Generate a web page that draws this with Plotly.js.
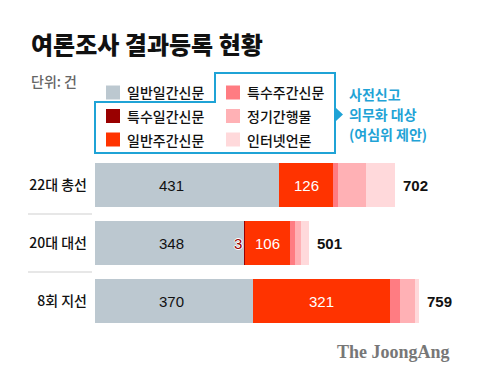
<!DOCTYPE html>
<html>
<head>
<meta charset="utf-8">
<script src="https://cdn.plot.ly/plotly-3.0.1.min.js"></script>
<style>html,body{margin:0;padding:0;background:#fff;}#chart{width:480px;height:379px;}</style>
</head>
<body>
<div id="chart"></div>
<script>
// ---- data ----
const categories = ['22대 총선', '20대 대선', '8회 지선'];
const seriesNames = ['일반일간신문', '특수일간신문', '일반주간신문', '특수주간신문', '정기간행물', '인터넷언론'];
const generalDaily  = [431, 348, 370];
const specialDaily  = [0, 3, 0];
const generalWeekly = [126, 106, 321];
const specialWeekly = [11, 12, 22];
const periodicals   = [67, 14, 35];
const internet      = [67, 18, 11];
const totals        = [702, 501, 759];
const noteLines     = ['사전신고', '의무화 대상', '(여심위 제안)'];

const seriesValues = [generalDaily, specialDaily, generalWeekly, specialWeekly, periodicals, internet];
const colors = ['#bcc8d0', '#990000', '#ff3300', '#ff7c82', '#ffb1b5', '#ffd9db'];

const FONT = '"Noto Sans CJK KR", "Noto Sans", sans-serif';
const NUMFONT = '"Liberation Sans", Arial, sans-serif';

// plot area in pixels
const L = 95, T = 156, W = 385, H = 174;
const X = p => (p - L) / W;
const Y = p => (T + H - p) / H;

const traces = seriesNames.map((name, i) => ({
  type: 'bar',
  orientation: 'h',
  name: name,
  y: categories,
  x: seriesValues[i],
  marker: {color: colors[i], line: {width: 0}},
  hoverinfo: 'x+name',
  showlegend: false
}));

const annotations = [];
// title & unit
annotations.push({xref: 'paper', yref: 'paper', x: X(29), y: Y(43), xanchor: 'left', yanchor: 'middle',
  text: '여론조사 결과등록 현황', showarrow: false, font: {family: FONT, size: 24, weight: 900, color: '#111'}});
annotations.push({xref: 'paper', yref: 'paper', x: X(29), y: Y(81), xanchor: 'left', yanchor: 'middle',
  text: '단위: 건', showarrow: false, font: {family: FONT, size: 14, weight: 500, color: '#666'}});
// note
noteLines.forEach((t, i) => {
  annotations.push({xref: 'paper', yref: 'paper', x: X(347), y: Y(94 + i * 20), xanchor: 'left', yanchor: 'middle',
    text: t, showarrow: false, font: {family: FONT, size: 14, weight: 700, color: '#1fa3d6'}});
});
// watermark
annotations.push({xref: 'paper', yref: 'paper', x: X(452), y: Y(352), xanchor: 'right', yanchor: 'middle',
  text: '<b>The JoongAng</b>', showarrow: false, font: {family: '"Liberation Serif", "DejaVu Serif", serif', size: 18, color: '#777'}});

// legend (custom)
const shapes = [];
seriesNames.forEach((name, i) => {
  const col = Math.floor(i / 3), row = i % 3;
  const sx = 106 + col * 120, cy = [92.5, 116, 139.5][row];
  shapes.push({type: 'rect', xref: 'paper', yref: 'paper', x0: X(sx), x1: X(sx + 14), y0: Y(cy - 7), y1: Y(cy + 7),
    fillcolor: colors[i], line: {width: 0}});
  annotations.push({xref: 'paper', yref: 'paper', x: X(sx + 19), y: Y(cy), xanchor: 'left', yanchor: 'middle',
    text: name, showarrow: false, font: {family: FONT, size: 14, weight: 500, color: '#111'}});
});
const pathPts = [[215, 73], [335, 73], [335, 153], [95, 153], [95, 102], [215, 102]];
shapes.push({type: 'path', xref: 'paper', yref: 'paper',
  path: 'M ' + pathPts.map(p => X(p[0]) + ',' + Y(p[1])).join(' L ') + ' Z',
  line: {color: '#1fa3d6', width: 2}, fillcolor: 'rgba(0,0,0,0)'});
shapes.push({type: 'path', xref: 'paper', yref: 'paper',
  path: 'M ' + X(336) + ',' + Y(108) + ' L ' + X(343) + ',' + Y(114.5) + ' L ' + X(336) + ',' + Y(121) + ' Z',
  line: {width: 0}, fillcolor: '#1fa3d6'});
// separators
[0.5, 1.5].forEach(v => {
  shapes.push({type: 'line', xref: 'paper', yref: 'y', x0: X(28), x1: X(92), y0: v, y1: v,
    line: {color: '#cfcfcf', width: 1}});
});

// value labels
categories.forEach((c, k) => {
  annotations.push({x: 178, y: c, xref: 'x', yref: 'y', text: String(generalDaily[k]), showarrow: false,
    xanchor: 'center', font: {family: NUMFONT, size: 15, color: '#111'}});
  if (specialDaily[k] > 0) {
    annotations.push({x: generalDaily[k] + specialDaily[k], y: c, xref: 'x', yref: 'y', text: String(specialDaily[k]),
      showarrow: false, xanchor: 'right', xshift: -1,
      font: {family: NUMFONT, size: 15, color: '#990000',
        shadow: '1px 0 0 #fff, -1px 0 0 #fff, 0 1px 0 #fff, 0 -1px 0 #fff'}});
  }
  const base = generalDaily[k] + specialDaily[k];
  annotations.push({x: base + generalWeekly[k] / 2, y: c, xref: 'x', yref: 'y', text: String(generalWeekly[k]),
    showarrow: false, xanchor: 'center', font: {family: NUMFONT, size: 15, color: '#fff'}});
  annotations.push({x: totals[k], y: c, xref: 'x', yref: 'y', text: '<b>' + totals[k] + '</b>', showarrow: false,
    xanchor: 'left', xshift: 6, font: {family: NUMFONT, size: 15, color: '#111'}});
});

const layout = {
  width: 480, height: 379,
  margin: {l: L, r: 480 - L - W, t: T, b: 379 - T - H, pad: 0},
  paper_bgcolor: '#fff', plot_bgcolor: '#fff',
  barmode: 'stack', bargap: 0.241,
  xaxis: {range: [0, W / 0.4274], visible: false, fixedrange: true},
  yaxis: {type: 'category', autorange: 'reversed', showgrid: false, zeroline: false, showline: false,
    ticks: '', ticklabelstandoff: 7, tickfont: {family: FONT, size: 14, weight: 500, color: '#111'}, fixedrange: true},
  shapes: shapes,
  annotations: annotations,
  showlegend: false
};

Plotly.newPlot('chart', traces, layout, {displayModeBar: false, staticPlot: true});
</script>
</body>
</html>
